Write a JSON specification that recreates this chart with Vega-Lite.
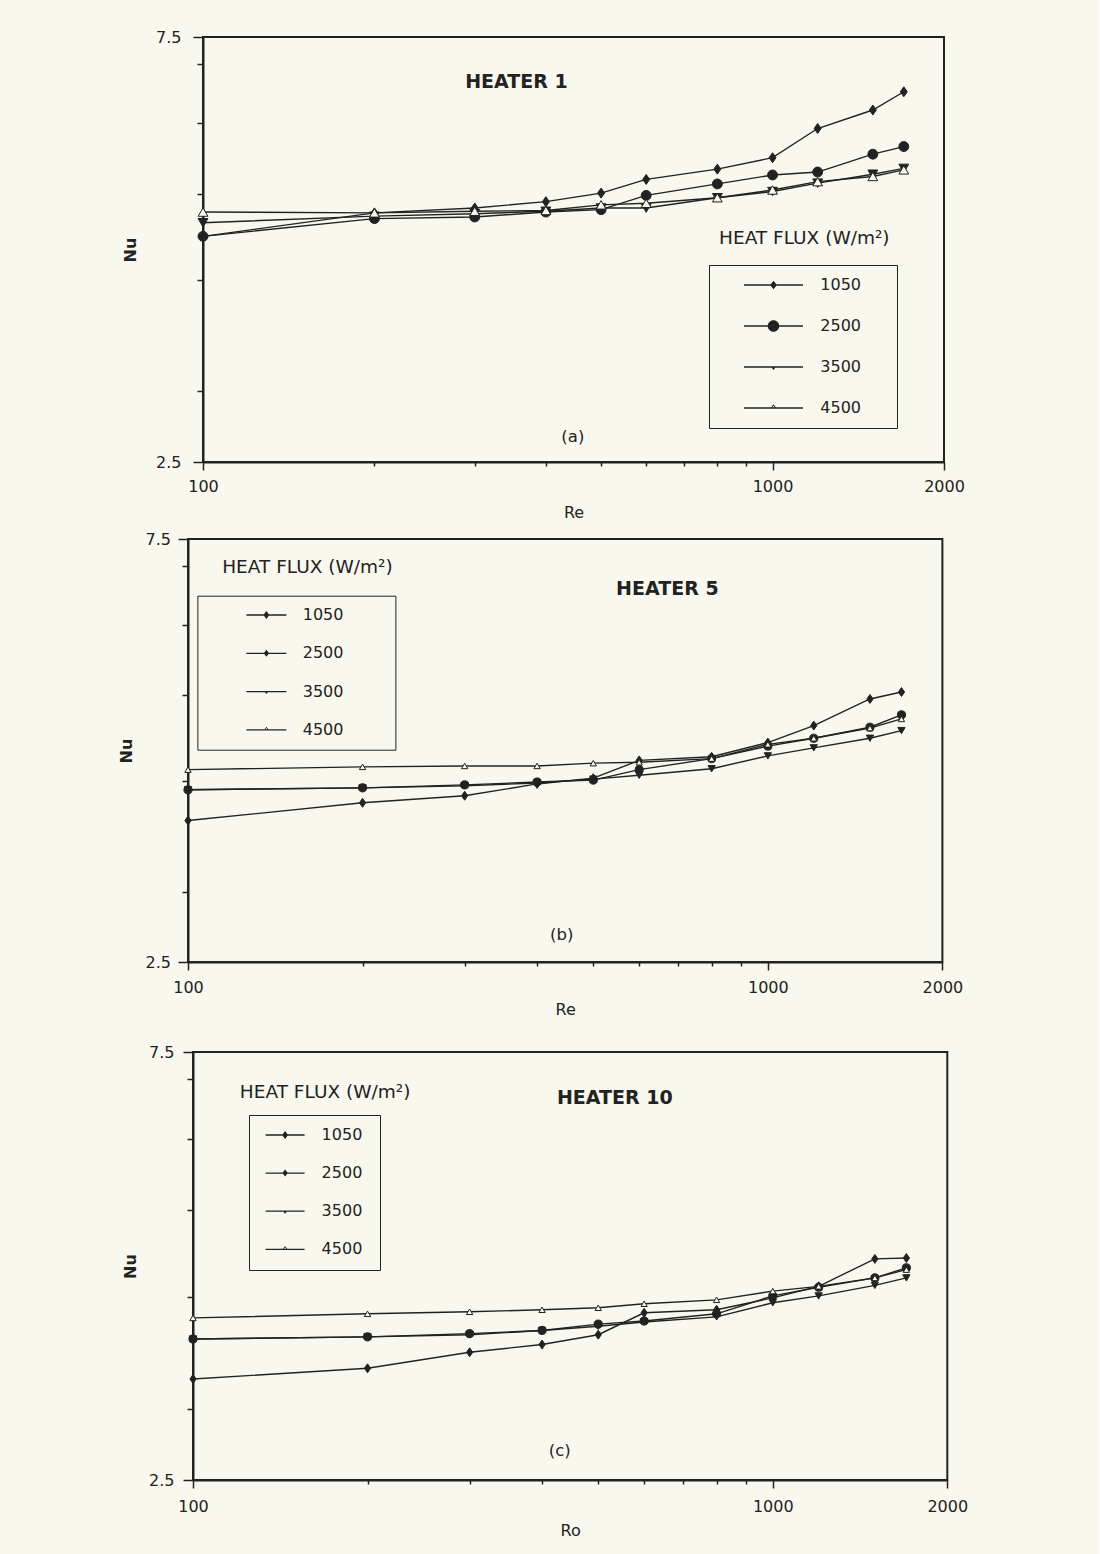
{
  "$schema": "https://vega.github.io/schema/vega-lite/v6.json",
  "background": "#f9f8ee",
  "padding": {"left": 110, "top": 28, "right": 130, "bottom": 17},
  "spacing": 9,
  "resolve": {"scale": {"x": "independent", "y": "independent", "shape": "independent", "size": "independent", "fill": "independent"}},
  "config": {
    "font": "DejaVu Sans",
    "view": {"stroke": "#222", "strokeWidth": 2},
    "axis": {"labelFont": "DejaVu Sans", "labelFontSize": 16, "labelColor": "#222", "titleFont": "DejaVu Sans", "titleFontSize": 16, "titleColor": "#222", "titleFontWeight": "normal", "domainColor": "#222", "domainWidth": 2, "tickColor": "#222", "tickWidth": 1.5, "grid": false, "labelFlush": false, "labelOverlap": false}
  },
  "datasets": {
    "nu": [
      {"panel": "a", "flux": "1050", "Re": 100, "Nu": 4.48}, {"panel": "a", "flux": "1050", "Re": 200, "Nu": 4.76}, {"panel": "a", "flux": "1050", "Re": 300, "Nu": 4.82}, {"panel": "a", "flux": "1050", "Re": 400, "Nu": 4.90}, {"panel": "a", "flux": "1050", "Re": 500, "Nu": 5.01}, {"panel": "a", "flux": "1050", "Re": 600, "Nu": 5.19}, {"panel": "a", "flux": "1050", "Re": 800, "Nu": 5.33}, {"panel": "a", "flux": "1050", "Re": 1000, "Nu": 5.49}, {"panel": "a", "flux": "1050", "Re": 1200, "Nu": 5.92}, {"panel": "a", "flux": "1050", "Re": 1500, "Nu": 6.21}, {"panel": "a", "flux": "1050", "Re": 1700, "Nu": 6.51},
      {"panel": "a", "flux": "2500", "Re": 100, "Nu": 4.48}, {"panel": "a", "flux": "2500", "Re": 200, "Nu": 4.69}, {"panel": "a", "flux": "2500", "Re": 300, "Nu": 4.71}, {"panel": "a", "flux": "2500", "Re": 400, "Nu": 4.77}, {"panel": "a", "flux": "2500", "Re": 500, "Nu": 4.80}, {"panel": "a", "flux": "2500", "Re": 600, "Nu": 4.98}, {"panel": "a", "flux": "2500", "Re": 800, "Nu": 5.13}, {"panel": "a", "flux": "2500", "Re": 1000, "Nu": 5.25}, {"panel": "a", "flux": "2500", "Re": 1200, "Nu": 5.29}, {"panel": "a", "flux": "2500", "Re": 1500, "Nu": 5.54}, {"panel": "a", "flux": "2500", "Re": 1700, "Nu": 5.65},
      {"panel": "a", "flux": "3500", "Re": 100, "Nu": 4.64}, {"panel": "a", "flux": "3500", "Re": 200, "Nu": 4.72}, {"panel": "a", "flux": "3500", "Re": 300, "Nu": 4.75}, {"panel": "a", "flux": "3500", "Re": 400, "Nu": 4.78}, {"panel": "a", "flux": "3500", "Re": 500, "Nu": 4.82}, {"panel": "a", "flux": "3500", "Re": 600, "Nu": 4.82}, {"panel": "a", "flux": "3500", "Re": 800, "Nu": 4.95}, {"panel": "a", "flux": "3500", "Re": 1000, "Nu": 5.03}, {"panel": "a", "flux": "3500", "Re": 1200, "Nu": 5.14}, {"panel": "a", "flux": "3500", "Re": 1500, "Nu": 5.26}, {"panel": "a", "flux": "3500", "Re": 1700, "Nu": 5.34},
      {"panel": "a", "flux": "4500", "Re": 100, "Nu": 4.77}, {"panel": "a", "flux": "4500", "Re": 200, "Nu": 4.76}, {"panel": "a", "flux": "4500", "Re": 300, "Nu": 4.78}, {"panel": "a", "flux": "4500", "Re": 400, "Nu": 4.79}, {"panel": "a", "flux": "4500", "Re": 500, "Nu": 4.86}, {"panel": "a", "flux": "4500", "Re": 600, "Nu": 4.88}, {"panel": "a", "flux": "4500", "Re": 800, "Nu": 4.95}, {"panel": "a", "flux": "4500", "Re": 1000, "Nu": 5.05}, {"panel": "a", "flux": "4500", "Re": 1200, "Nu": 5.16}, {"panel": "a", "flux": "4500", "Re": 1500, "Nu": 5.23}, {"panel": "a", "flux": "4500", "Re": 1700, "Nu": 5.32},
      {"panel": "b", "flux": "1050", "Re": 100, "Nu": 3.61}, {"panel": "b", "flux": "1050", "Re": 200, "Nu": 3.78}, {"panel": "b", "flux": "1050", "Re": 300, "Nu": 3.85}, {"panel": "b", "flux": "1050", "Re": 400, "Nu": 3.97}, {"panel": "b", "flux": "1050", "Re": 500, "Nu": 4.03}, {"panel": "b", "flux": "1050", "Re": 600, "Nu": 4.22}, {"panel": "b", "flux": "1050", "Re": 800, "Nu": 4.26}, {"panel": "b", "flux": "1050", "Re": 1000, "Nu": 4.42}, {"panel": "b", "flux": "1050", "Re": 1200, "Nu": 4.62}, {"panel": "b", "flux": "1050", "Re": 1500, "Nu": 4.95}, {"panel": "b", "flux": "1050", "Re": 1700, "Nu": 5.04},
      {"panel": "b", "flux": "2500", "Re": 100, "Nu": 3.91}, {"panel": "b", "flux": "2500", "Re": 200, "Nu": 3.93}, {"panel": "b", "flux": "2500", "Re": 300, "Nu": 3.96}, {"panel": "b", "flux": "2500", "Re": 400, "Nu": 3.99}, {"panel": "b", "flux": "2500", "Re": 500, "Nu": 4.01}, {"panel": "b", "flux": "2500", "Re": 600, "Nu": 4.12}, {"panel": "b", "flux": "2500", "Re": 800, "Nu": 4.24}, {"panel": "b", "flux": "2500", "Re": 1000, "Nu": 4.38}, {"panel": "b", "flux": "2500", "Re": 1200, "Nu": 4.47}, {"panel": "b", "flux": "2500", "Re": 1500, "Nu": 4.60}, {"panel": "b", "flux": "2500", "Re": 1700, "Nu": 4.75},
      {"panel": "b", "flux": "3500", "Re": 100, "Nu": 3.91}, {"panel": "b", "flux": "3500", "Re": 200, "Nu": 3.93}, {"panel": "b", "flux": "3500", "Re": 300, "Nu": 3.95}, {"panel": "b", "flux": "3500", "Re": 400, "Nu": 3.98}, {"panel": "b", "flux": "3500", "Re": 500, "Nu": 4.02}, {"panel": "b", "flux": "3500", "Re": 600, "Nu": 4.06}, {"panel": "b", "flux": "3500", "Re": 800, "Nu": 4.13}, {"panel": "b", "flux": "3500", "Re": 1000, "Nu": 4.27}, {"panel": "b", "flux": "3500", "Re": 1200, "Nu": 4.36}, {"panel": "b", "flux": "3500", "Re": 1500, "Nu": 4.47}, {"panel": "b", "flux": "3500", "Re": 1700, "Nu": 4.56},
      {"panel": "b", "flux": "4500", "Re": 100, "Nu": 4.12}, {"panel": "b", "flux": "4500", "Re": 200, "Nu": 4.15}, {"panel": "b", "flux": "4500", "Re": 300, "Nu": 4.16}, {"panel": "b", "flux": "4500", "Re": 400, "Nu": 4.16}, {"panel": "b", "flux": "4500", "Re": 500, "Nu": 4.19}, {"panel": "b", "flux": "4500", "Re": 600, "Nu": 4.20}, {"panel": "b", "flux": "4500", "Re": 800, "Nu": 4.24}, {"panel": "b", "flux": "4500", "Re": 1000, "Nu": 4.40}, {"panel": "b", "flux": "4500", "Re": 1200, "Nu": 4.47}, {"panel": "b", "flux": "4500", "Re": 1500, "Nu": 4.59}, {"panel": "b", "flux": "4500", "Re": 1700, "Nu": 4.70},
      {"panel": "c", "flux": "1050", "Re": 100, "Nu": 3.24}, {"panel": "c", "flux": "1050", "Re": 200, "Nu": 3.33}, {"panel": "c", "flux": "1050", "Re": 300, "Nu": 3.47}, {"panel": "c", "flux": "1050", "Re": 400, "Nu": 3.54}, {"panel": "c", "flux": "1050", "Re": 500, "Nu": 3.63}, {"panel": "c", "flux": "1050", "Re": 600, "Nu": 3.84}, {"panel": "c", "flux": "1050", "Re": 800, "Nu": 3.87}, {"panel": "c", "flux": "1050", "Re": 1000, "Nu": 3.99}, {"panel": "c", "flux": "1050", "Re": 1200, "Nu": 4.11}, {"panel": "c", "flux": "1050", "Re": 1500, "Nu": 4.41}, {"panel": "c", "flux": "1050", "Re": 1700, "Nu": 4.42},
      {"panel": "c", "flux": "2500", "Re": 100, "Nu": 3.59}, {"panel": "c", "flux": "2500", "Re": 200, "Nu": 3.61}, {"panel": "c", "flux": "2500", "Re": 300, "Nu": 3.64}, {"panel": "c", "flux": "2500", "Re": 400, "Nu": 3.67}, {"panel": "c", "flux": "2500", "Re": 500, "Nu": 3.73}, {"panel": "c", "flux": "2500", "Re": 600, "Nu": 3.76}, {"panel": "c", "flux": "2500", "Re": 800, "Nu": 3.83}, {"panel": "c", "flux": "2500", "Re": 1000, "Nu": 4.01}, {"panel": "c", "flux": "2500", "Re": 1200, "Nu": 4.10}, {"panel": "c", "flux": "2500", "Re": 1500, "Nu": 4.20}, {"panel": "c", "flux": "2500", "Re": 1700, "Nu": 4.31},
      {"panel": "c", "flux": "3500", "Re": 100, "Nu": 3.59}, {"panel": "c", "flux": "3500", "Re": 200, "Nu": 3.61}, {"panel": "c", "flux": "3500", "Re": 300, "Nu": 3.63}, {"panel": "c", "flux": "3500", "Re": 400, "Nu": 3.67}, {"panel": "c", "flux": "3500", "Re": 500, "Nu": 3.71}, {"panel": "c", "flux": "3500", "Re": 600, "Nu": 3.75}, {"panel": "c", "flux": "3500", "Re": 800, "Nu": 3.80}, {"panel": "c", "flux": "3500", "Re": 1000, "Nu": 3.94}, {"panel": "c", "flux": "3500", "Re": 1200, "Nu": 4.01}, {"panel": "c", "flux": "3500", "Re": 1500, "Nu": 4.12}, {"panel": "c", "flux": "3500", "Re": 1700, "Nu": 4.20},
      {"panel": "c", "flux": "4500", "Re": 100, "Nu": 3.79}, {"panel": "c", "flux": "4500", "Re": 200, "Nu": 3.83}, {"panel": "c", "flux": "4500", "Re": 300, "Nu": 3.85}, {"panel": "c", "flux": "4500", "Re": 400, "Nu": 3.87}, {"panel": "c", "flux": "4500", "Re": 500, "Nu": 3.89}, {"panel": "c", "flux": "4500", "Re": 600, "Nu": 3.93}, {"panel": "c", "flux": "4500", "Re": 800, "Nu": 3.97}, {"panel": "c", "flux": "4500", "Re": 1000, "Nu": 4.06}, {"panel": "c", "flux": "4500", "Re": 1200, "Nu": 4.11}, {"panel": "c", "flux": "4500", "Re": 1500, "Nu": 4.20}, {"panel": "c", "flux": "4500", "Re": 1700, "Nu": 4.29}
    ],
    "notes": [
      {"panel": "a", "kind": "heater", "text": "HEATER 1", "Re": 355, "Nu": 6.68},
      {"panel": "a", "kind": "tag", "text": "(a)", "Re": 446, "Nu": 2.67},
      {"panel": "a", "kind": "flux", "text": "HEAT FLUX  (W/m²)", "Re": 1137, "Nu": 4.46},
      {"panel": "b", "kind": "heater", "text": "HEATER 5", "Re": 671, "Nu": 6.59},
      {"panel": "b", "kind": "tag", "text": "(b)", "Re": 441, "Nu": 2.68},
      {"panel": "b", "kind": "flux", "text": "HEAT FLUX (W/m²)", "Re": 160.7, "Nu": 6.97},
      {"panel": "c", "kind": "heater", "text": "HEATER 10", "Re": 534, "Nu": 6.66},
      {"panel": "c", "kind": "tag", "text": "(c)", "Re": 429, "Nu": 2.69},
      {"panel": "c", "kind": "flux", "text": "HEAT FLUX (W/m²)", "Re": 169, "Nu": 6.76}
    ]
  },
  "vconcat": [
    {
      "spacing": 0,
      "resolve": {"scale": {"x": "independent", "y": "independent", "shape": "independent", "size": "independent", "fill": "independent"}},
      "hconcat": [
        {"width": 11, "height": 10, "data": {"values": []}, "mark": "point", "view": {"stroke": null}},
        {
          "width": 741, "height": 425,
          "resolve": {"scale": {"shape": "independent", "size": "independent", "fill": "independent"}, "axis": {"x": "independent", "y": "independent"}},
          "layer": [
            {
              "data": {"name": "nu"}, "transform": [{"filter": "datum.panel == 'a'"}],
              "mark": {"type": "line", "color": "#222", "strokeWidth": 1.4},
              "encoding": {
                "x": {"field": "Re", "type": "quantitative", "scale": {"type": "log", "domain": [100, 2000], "nice": false}, "axis": {"orient": "bottom", "values": [100, 1000, 2000], "format": "d", "title": "Re", "tickSize": 8, "labelPadding": 8, "titlePadding": 10}},
                "y": {"field": "Nu", "type": "quantitative", "scale": {"type": "log", "domain": [2.5, 7.5], "nice": false}, "axis": {"orient": "left", "values": [2.5, 7.5], "format": ".1f", "title": "Nu", "titleFontWeight": "bold", "tickSize": 10, "labelPadding": 12, "titlePadding": 17}},
                "detail": {"field": "flux"}
              }
            },
            {
              "data": {"name": "nu"}, "transform": [{"filter": "datum.panel == 'a'"}],
              "mark": {"type": "point", "filled": true, "stroke": "#222", "strokeWidth": 1, "opacity": 1},
              "encoding": {
                "x": {"field": "Re", "type": "quantitative", "axis": {"orient": "bottom", "values": [200, 300, 400, 500, 600, 700, 800, 900], "labels": false, "title": null, "tickSize": 4, "domain": false}},
                "y": {"field": "Nu", "type": "quantitative", "axis": {"orient": "left", "values": [3, 4, 5, 6, 7], "labels": false, "title": null, "tickSize": 6, "domain": false}},
                "shape": {"field": "flux", "type": "nominal", "scale": {"domain": ["1050", "2500", "3500", "4500"], "range": ["M0,-1L0.7,0L0,1L-0.7,0Z", "circle", "triangle-down", "triangle-up"]}, "legend": null},
                "size": {"field": "flux", "type": "nominal", "scale": {"domain": ["1050", "2500", "3500", "4500"], "range": [100, 95, 16, 20]}, "legend": null},
                "fill": {"field": "flux", "type": "nominal", "scale": {"domain": ["1050", "2500", "3500", "4500"], "range": ["#222", "#222", "#222", "#f9f8ee"]}, "legend": null}
              }
            },
            {
              "data": {"name": "nu"}, "transform": [{"filter": "datum.panel == 'a'"}, {"filter": "false"}],
              "mark": {"type": "point", "filled": true, "color": "#222", "opacity": 1},
              "encoding": {
                "x": {"field": "Re", "type": "quantitative", "axis": null},
                "y": {"field": "Nu", "type": "quantitative", "axis": null},
                "shape": {"field": "flux", "type": "nominal",
                  "scale": {"domain": ["1050", "2500", "3500", "4500"], "range": ["M-5.9,-0.13L5.9,-0.13L5.9,0.13L-5.9,0.13ZM0,-0.85L0.7,0L0,0.85L-0.7,0Z", "M-5.9,-0.13L5.9,-0.13L5.9,0.13L-5.9,0.13ZM1.15,0A1.15,1.15,0,1,1,-1.15,0A1.15,1.15,0,1,1,1.15,0Z", "M-5.9,-0.13L5.9,-0.13L5.9,0.13L-5.9,0.13ZM-0.45,0L0.45,0L0,0.6Z", "M-5.9,-0.13L5.9,-0.13L5.9,0.13L-5.9,0.13ZM-0.6,0.05L0,-0.75L0.6,0.05ZM-0.3,-0.08L0.3,-0.08L0,-0.45Z"]},
                  "legend": {"orient": "none", "legendX": 506, "legendY": 228, "title": null, "strokeColor": "#222", "padding": 12, "rowPadding": 25, "clipHeight": 16, "symbolOffset": 44.5, "labelOffset": 38.8, "labelFont": "DejaVu Sans", "labelFontSize": 16, "labelColor": "#222", "symbolSize": 100, "symbolOpacity": 1, "symbolStrokeWidth": 0, "symbolFillColor": "#222", "labelExpr": "datum.label + '\u2800\u2800'"}}
              }
            },
            {
              "data": {"name": "notes"}, "transform": [{"filter": "datum.panel == 'a' && datum.kind == 'heater'"}],
              "mark": {"type": "text", "font": "DejaVu Sans", "fontSize": 19, "fontWeight": "bold", "color": "#222"},
              "encoding": {"x": {"field": "Re", "type": "quantitative", "axis": null}, "y": {"field": "Nu", "type": "quantitative", "axis": null}, "text": {"field": "text"}}
            },
            {
              "data": {"name": "notes"}, "transform": [{"filter": "datum.panel == 'a' && datum.kind == 'tag'"}],
              "mark": {"type": "text", "font": "DejaVu Sans", "fontSize": 16.5, "color": "#222"},
              "encoding": {"x": {"field": "Re", "type": "quantitative", "axis": null}, "y": {"field": "Nu", "type": "quantitative", "axis": null}, "text": {"field": "text"}}
            },
            {
              "data": {"name": "notes"}, "transform": [{"filter": "datum.panel == 'a' && datum.kind == 'flux'"}],
              "mark": {"type": "text", "font": "DejaVu Sans", "fontSize": 18.5, "color": "#222"},
              "encoding": {"x": {"field": "Re", "type": "quantitative", "axis": null}, "y": {"field": "Nu", "type": "quantitative", "axis": null}, "text": {"field": "text"}}
            }
          ]
        }
      ]
    },
    {
      "spacing": 25,
      "resolve": {"scale": {"x": "independent", "y": "independent", "shape": "independent", "size": "independent", "fill": "independent"}},
      "vconcat": [
        {
          "spacing": 0,
          "resolve": {"scale": {"x": "independent", "y": "independent", "shape": "independent", "size": "independent", "fill": "independent"}},
          "hconcat": [
            {"width": 6.8, "height": 10, "data": {"values": []}, "mark": "point", "view": {"stroke": null}},
            {
              "width": 754.4, "height": 423,
              "resolve": {"scale": {"shape": "independent", "size": "independent", "fill": "independent"}, "axis": {"x": "independent", "y": "independent"}},
              "layer": [
                {
                  "data": {"name": "nu"}, "transform": [{"filter": "datum.panel == 'b'"}],
                  "mark": {"type": "line", "color": "#222", "strokeWidth": 1.4},
                  "encoding": {
                    "x": {"field": "Re", "type": "quantitative", "scale": {"type": "log", "domain": [100, 2000], "nice": false}, "axis": {"orient": "bottom", "values": [100, 1000, 2000], "format": "d", "title": "Re", "tickSize": 8, "labelPadding": 9, "titlePadding": 6}},
                    "y": {"field": "Nu", "type": "quantitative", "scale": {"type": "log", "domain": [2.5, 7.5], "nice": false}, "axis": {"orient": "left", "values": [2.5, 7.5], "format": ".1f", "title": "Nu", "titleFontWeight": "bold", "tickSize": 10, "labelPadding": 7.5, "titlePadding": 10.6}},
                    "detail": {"field": "flux"}
                  }
                },
                {
                  "data": {"name": "nu"}, "transform": [{"filter": "datum.panel == 'b'"}],
                  "mark": {"type": "point", "filled": true, "stroke": "#222", "strokeWidth": 1, "opacity": 1},
                  "encoding": {
                    "x": {"field": "Re", "type": "quantitative", "axis": {"orient": "bottom", "values": [200, 300, 400, 500, 600, 700, 800, 900], "labels": false, "title": null, "tickSize": 4, "domain": false}},
                    "y": {"field": "Nu", "type": "quantitative", "axis": {"orient": "left", "values": [3, 4, 5, 6, 7], "labels": false, "title": null, "tickSize": 6, "domain": false}},
                    "shape": {"field": "flux", "type": "nominal", "scale": {"domain": ["1050", "2500", "3500", "4500"], "range": ["M0,-1L0.7,0L0,1L-0.7,0Z", "circle", "triangle-down", "triangle-up"]}, "legend": null},
                    "size": {"field": "flux", "type": "nominal", "scale": {"domain": ["1050", "2500", "3500", "4500"], "range": [80, 40, 16, 20]}, "legend": null},
                    "fill": {"field": "flux", "type": "nominal", "scale": {"domain": ["1050", "2500", "3500", "4500"], "range": ["#222", "#222", "#222", "#f9f8ee"]}, "legend": null}
                  }
                },
                {
                  "data": {"name": "nu"}, "transform": [{"filter": "datum.panel == 'b'"}, {"filter": "false"}],
                  "mark": {"type": "point", "filled": true, "color": "#222", "opacity": 1},
                  "encoding": {
                    "x": {"field": "Re", "type": "quantitative", "axis": null},
                    "y": {"field": "Nu", "type": "quantitative", "axis": null},
                    "shape": {"field": "flux", "type": "nominal",
                      "scale": {"domain": ["1050", "2500", "3500", "4500"], "range": ["M-4,-0.13L4,-0.13L4,0.13L-4,0.13ZM0,-0.8L0.6,0L0,0.8L-0.6,0Z", "M-4,-0.13L4,-0.13L4,0.13L-4,0.13ZM0,-0.7L0.55,0L0,0.7L-0.55,0Z", "M-4,-0.13L4,-0.13L4,0.13L-4,0.13ZM-0.4,0L0.4,0L0,0.5Z", "M-4,-0.13L4,-0.13L4,0.13L-4,0.13ZM-0.5,0.05L0,-0.65L0.5,0.05ZM-0.25,-0.07L0.25,-0.07L0,-0.4Z"]},
                      "legend": {"orient": "none", "legendX": 9.4, "legendY": 56.7, "title": null, "strokeColor": "#222", "padding": 11.3, "rowPadding": 22.3, "clipHeight": 16, "symbolOffset": 49.7, "labelOffset": 28.3, "labelFont": "DejaVu Sans", "labelFontSize": 16, "labelColor": "#222", "symbolSize": 100, "symbolOpacity": 1, "symbolStrokeWidth": 0, "symbolFillColor": "#222", "labelExpr": "datum.label + '\u00a0\u2800\u2800\u2800'"}}
                  }
                },
                {
                  "data": {"name": "notes"}, "transform": [{"filter": "datum.panel == 'b' && datum.kind == 'heater'"}],
                  "mark": {"type": "text", "font": "DejaVu Sans", "fontSize": 19, "fontWeight": "bold", "color": "#222"},
                  "encoding": {"x": {"field": "Re", "type": "quantitative", "axis": null}, "y": {"field": "Nu", "type": "quantitative", "axis": null}, "text": {"field": "text"}}
                },
                {
                  "data": {"name": "notes"}, "transform": [{"filter": "datum.panel == 'b' && datum.kind == 'tag'"}],
                  "mark": {"type": "text", "font": "DejaVu Sans", "fontSize": 16.5, "color": "#222"},
                  "encoding": {"x": {"field": "Re", "type": "quantitative", "axis": null}, "y": {"field": "Nu", "type": "quantitative", "axis": null}, "text": {"field": "text"}}
                },
                {
                  "data": {"name": "notes"}, "transform": [{"filter": "datum.panel == 'b' && datum.kind == 'flux'"}],
                  "mark": {"type": "text", "font": "DejaVu Sans", "fontSize": 18.5, "color": "#222"},
                  "encoding": {"x": {"field": "Re", "type": "quantitative", "axis": null}, "y": {"field": "Nu", "type": "quantitative", "axis": null}, "text": {"field": "text"}}
                }
              ]
            }
          ]
        },
        {
          "spacing": 0,
          "resolve": {"scale": {"x": "independent", "y": "independent", "shape": "independent", "size": "independent", "fill": "independent"}},
          "hconcat": [
            {"width": 11, "height": 10, "data": {"values": []}, "mark": "point", "view": {"stroke": null}},
            {
              "width": 754.3, "height": 428,
              "resolve": {"scale": {"shape": "independent", "size": "independent", "fill": "independent"}, "axis": {"x": "independent", "y": "independent"}},
              "layer": [
                {
                  "data": {"name": "nu"}, "transform": [{"filter": "datum.panel == 'c'"}],
                  "mark": {"type": "line", "color": "#222", "strokeWidth": 1.4},
                  "encoding": {
                    "x": {"field": "Re", "type": "quantitative", "scale": {"type": "log", "domain": [100, 2000], "nice": false}, "axis": {"orient": "bottom", "values": [100, 1000, 2000], "format": "d", "title": "Ro", "tickSize": 8, "labelPadding": 10, "titlePadding": 8}},
                    "y": {"field": "Nu", "type": "quantitative", "scale": {"type": "log", "domain": [2.5, 7.5], "nice": false}, "axis": {"orient": "left", "values": [2.5, 7.5], "format": ".1f", "title": "Nu", "titleFontWeight": "bold", "tickSize": 10, "labelPadding": 9, "titlePadding": 9.9}},
                    "detail": {"field": "flux"}
                  }
                },
                {
                  "data": {"name": "nu"}, "transform": [{"filter": "datum.panel == 'c'"}],
                  "mark": {"type": "point", "filled": true, "stroke": "#222", "strokeWidth": 1, "opacity": 1},
                  "encoding": {
                    "x": {"field": "Re", "type": "quantitative", "axis": {"orient": "bottom", "values": [200, 300, 400, 500, 600, 700, 800, 900], "labels": false, "title": null, "tickSize": 4, "domain": false}},
                    "y": {"field": "Nu", "type": "quantitative", "axis": {"orient": "left", "values": [3, 4, 5, 6, 7], "labels": false, "title": null, "tickSize": 6, "domain": false}},
                    "shape": {"field": "flux", "type": "nominal", "scale": {"domain": ["1050", "2500", "3500", "4500"], "range": ["M0,-1L0.7,0L0,1L-0.7,0Z", "circle", "triangle-down", "triangle-up"]}, "legend": null},
                    "size": {"field": "flux", "type": "nominal", "scale": {"domain": ["1050", "2500", "3500", "4500"], "range": [80, 40, 16, 20]}, "legend": null},
                    "fill": {"field": "flux", "type": "nominal", "scale": {"domain": ["1050", "2500", "3500", "4500"], "range": ["#222", "#222", "#222", "#f9f8ee"]}, "legend": null}
                  }
                },
                {
                  "data": {"name": "nu"}, "transform": [{"filter": "datum.panel == 'c'"}, {"filter": "false"}],
                  "mark": {"type": "point", "filled": true, "color": "#222", "opacity": 1},
                  "encoding": {
                    "x": {"field": "Re", "type": "quantitative", "axis": null},
                    "y": {"field": "Nu", "type": "quantitative", "axis": null},
                    "shape": {"field": "flux", "type": "nominal",
                      "scale": {"domain": ["1050", "2500", "3500", "4500"], "range": ["M-3.9,-0.13L3.9,-0.13L3.9,0.13L-3.9,0.13ZM0,-0.8L0.6,0L0,0.8L-0.6,0Z", "M-3.9,-0.13L3.9,-0.13L3.9,0.13L-3.9,0.13ZM0,-0.7L0.55,0L0,0.7L-0.55,0Z", "M-3.9,-0.13L3.9,-0.13L3.9,0.13L-3.9,0.13ZM-0.4,0L0.4,0L0,0.5Z", "M-3.9,-0.13L3.9,-0.13L3.9,0.13L-3.9,0.13ZM-0.5,0.05L0,-0.65L0.5,0.05ZM-0.25,-0.07L0.25,-0.07L0,-0.4Z"]},
                      "legend": {"orient": "none", "legendX": 56, "legendY": 63, "title": null, "strokeColor": "#222", "padding": 12, "rowPadding": 22.1, "clipHeight": 16, "symbolOffset": 16.1, "labelOffset": 28.5, "labelFont": "DejaVu Sans", "labelFontSize": 16, "labelColor": "#222", "symbolSize": 100, "symbolOpacity": 1, "symbolStrokeWidth": 0, "symbolFillColor": "#222", "labelExpr": "datum.label + '\u00a0\u200b'"}}
                  }
                },
                {
                  "data": {"name": "notes"}, "transform": [{"filter": "datum.panel == 'c' && datum.kind == 'heater'"}],
                  "mark": {"type": "text", "font": "DejaVu Sans", "fontSize": 19, "fontWeight": "bold", "color": "#222"},
                  "encoding": {"x": {"field": "Re", "type": "quantitative", "axis": null}, "y": {"field": "Nu", "type": "quantitative", "axis": null}, "text": {"field": "text"}}
                },
                {
                  "data": {"name": "notes"}, "transform": [{"filter": "datum.panel == 'c' && datum.kind == 'tag'"}],
                  "mark": {"type": "text", "font": "DejaVu Sans", "fontSize": 16.5, "color": "#222"},
                  "encoding": {"x": {"field": "Re", "type": "quantitative", "axis": null}, "y": {"field": "Nu", "type": "quantitative", "axis": null}, "text": {"field": "text"}}
                },
                {
                  "data": {"name": "notes"}, "transform": [{"filter": "datum.panel == 'c' && datum.kind == 'flux'"}],
                  "mark": {"type": "text", "font": "DejaVu Sans", "fontSize": 18.5, "color": "#222"},
                  "encoding": {"x": {"field": "Re", "type": "quantitative", "axis": null}, "y": {"field": "Nu", "type": "quantitative", "axis": null}, "text": {"field": "text"}}
                }
              ]
            }
          ]
        }
      ]
    }
  ]
}
